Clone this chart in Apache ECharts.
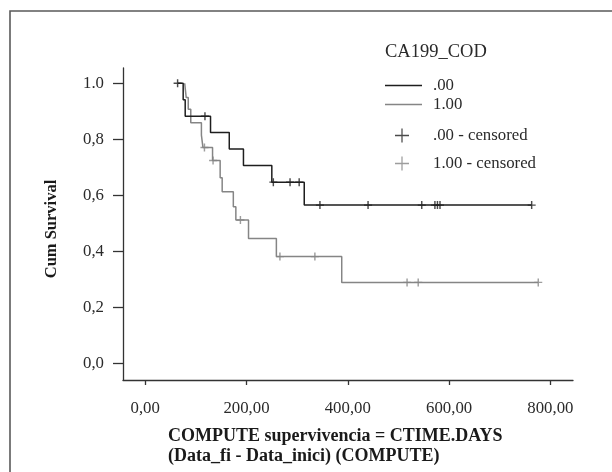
<!DOCTYPE html>
<html>
<head>
<meta charset="utf-8">
<script src="https://cdn.jsdelivr.net/npm/echarts@6/dist/echarts.min.js"></script>
<style>
html,body{margin:0;padding:0;background:#fff;}
#chart{width:612px;height:472px;}
</style>
</head>
<body>
<div id="chart"></div>
<script>
// ---- data ----
const groupNames = ['.00', '1.00'];
const censorNames = ['.00 - censored', '1.00 - censored'];

// group .00 : step points (time, cumulative survival)
const time0 = [64, 75, 79, 129, 166, 194, 250, 314, 763];
const surv0 = [1.0, 0.941, 0.882, 0.824, 0.765, 0.706, 0.647, 0.565, 0.565];
// group .00 : censored cases
const censTime0 = [64, 118, 253, 286, 304, 345, 440, 546, 572, 577, 582, 763];
const censSurv0 = [1.0, 0.882, 0.647, 0.647, 0.647, 0.565, 0.565, 0.565, 0.565, 0.565, 0.565, 0.565];

// group 1.00 : step points
const time1 = [78, 81, 85, 90, 111, 114, 133, 148, 152, 174, 179, 204, 259, 388, 776];
const surv1 = [1.0, 0.949, 0.907, 0.859, 0.815, 0.771, 0.724, 0.663, 0.613, 0.559, 0.512, 0.446, 0.381, 0.289, 0.289];
// group 1.00 : censored cases
const censTime1 = [117, 134, 188, 266, 335, 517, 539, 776];
const censSurv1 = [0.771, 0.724, 0.512, 0.381, 0.381, 0.289, 0.289, 0.289];

const xTicks = [0, 200, 400, 600, 800];
const xTickLabels = ['0,00', '200,00', '400,00', '600,00', '800,00'];
const yTicks = [0, 0.2, 0.4, 0.6, 0.8, 1.0];
const yTickLabels = ['0,0', '0,2', '0,4', '0,6', '0,8', '1.0'];

const legendTitle = 'CA199_COD';
const xTitle = 'COMPUTE supervivencia = CTIME.DAYS\n(Data_fi - Data_inici) (COMPUTE)';
const yTitle = 'Cum Survival';

// ---- styling ----
const FONT = '"Liberation Serif", "DejaVu Serif", serif';
const C0 = '#1e1e1e';
const C1 = '#858585';
const AX = '#333333';
const TXT = '#2a2a2a';
const plusMark = 'path://M0,4.1H10V5.9H0Z M4.1,0H5.9V10H4.1Z';
const plusLegend = 'path://M0,4.55H10V5.45H0Z M4.55,0H5.45V10H4.55Z';

function zip(a, b) { return a.map((v, i) => [v, b[i]]); }

const chart = echarts.init(document.getElementById('chart'), null, { renderer: 'canvas' });

const option = {
  animation: false,
  backgroundColor: '#fff',
  graphic: [{
    type: 'rect',
    shape: { x: 10, y: 11, width: 700, height: 600 },
    style: { fill: 'none', stroke: '#5a5a5a', lineWidth: 1.6 },
    silent: true
  }],
  title: [{
    text: legendTitle,
    left: 385, top: 43, padding: 0,
    textStyle: { fontFamily: FONT, fontSize: 18.5, fontWeight: 'normal', color: TXT }
  }, {
    text: xTitle,
    left: 168, top: 427, padding: 0,
    textStyle: { fontFamily: FONT, fontSize: 18, fontWeight: 'bold', color: '#1a1a1a', lineHeight: 19.5, align: 'left' }
  }],
  legend: [{
    data: [{ name: groupNames[0], icon: 'rect' }, { name: groupNames[1], icon: 'rect' }],
    orient: 'vertical',
    left: 385, top: 77, padding: 0,
    itemWidth: 37, itemHeight: 1.4,
    itemGap: 2,
    textStyle: { fontFamily: FONT, fontSize: 16.8, color: TXT, lineHeight: 16, padding: [0, 0, 0, 6] },
    selectedMode: false
  }, {
    data: [{ name: censorNames[0], icon: plusLegend }, { name: censorNames[1], icon: plusLegend }],
    orient: 'vertical',
    left: 395, top: 127, padding: 0,
    itemWidth: 14, itemHeight: 14,
    itemGap: 11,
    textStyle: { fontFamily: FONT, fontSize: 16.8, color: TXT, lineHeight: 16, padding: [0, 0, 0, 19] },
    selectedMode: false
  }],
  grid: { left: 123, top: 68, width: 450, height: 312, containLabel: false },
  xAxis: {
    type: 'value', min: -43.8, max: 844.6,
    axisLine: { show: true, onZero: false, lineStyle: { color: AX, width: 1.3 } },
    axisTick: { show: true, customValues: xTicks, length: 5, lineStyle: { color: AX, width: 1.3 } },
    axisLabel: {
      customValues: xTicks, margin: 20,
      fontFamily: FONT, fontSize: 16.8, color: TXT,
      formatter: v => xTickLabels[xTicks.indexOf(v)]
    },
    splitLine: { show: false }
  },
  yAxis: {
    type: 'value', min: -0.0596, max: 1.0546,
    name: yTitle, nameLocation: 'middle', nameGap: 63, nameRotate: 90,
    nameTextStyle: { fontFamily: FONT, fontSize: 16.5, fontWeight: 'bold', color: '#1a1a1a', padding: [0, 10, 0, 0] },
    axisLine: { show: true, onZero: false, lineStyle: { color: AX, width: 1.3 } },
    axisTick: { show: true, customValues: yTicks, length: 10, lineStyle: { color: AX, width: 1.3 } },
    axisLabel: {
      customValues: yTicks, margin: 19,
      fontFamily: FONT, fontSize: 16.8, color: TXT,
      formatter: v => yTickLabels[yTicks.findIndex(t => Math.abs(t - v) < 1e-9)]
    },
    splitLine: { show: false }
  },
  series: [{
    name: groupNames[0], type: 'line', step: 'end',
    data: zip(time0, surv0), showSymbol: false, symbol: 'none',
    lineStyle: { color: C0, width: 1.5 }, itemStyle: { color: C0 }, z: 3
  }, {
    name: groupNames[1], type: 'line', step: 'end',
    data: zip(time1, surv1), showSymbol: false, symbol: 'none',
    lineStyle: { color: C1, width: 1.5 }, itemStyle: { color: C1 }, z: 2
  }, {
    name: censorNames[0], type: 'scatter',
    data: zip(censTime0, censSurv0), symbol: plusMark, symbolSize: 8,
    itemStyle: { color: C0 }, z: 4
  }, {
    name: censorNames[1], type: 'scatter',
    data: zip(censTime1, censSurv1), symbol: plusMark, symbolSize: 8,
    itemStyle: { color: C1 }, z: 4
  }]
};
chart.setOption(option);
</script>
</body>
</html>
